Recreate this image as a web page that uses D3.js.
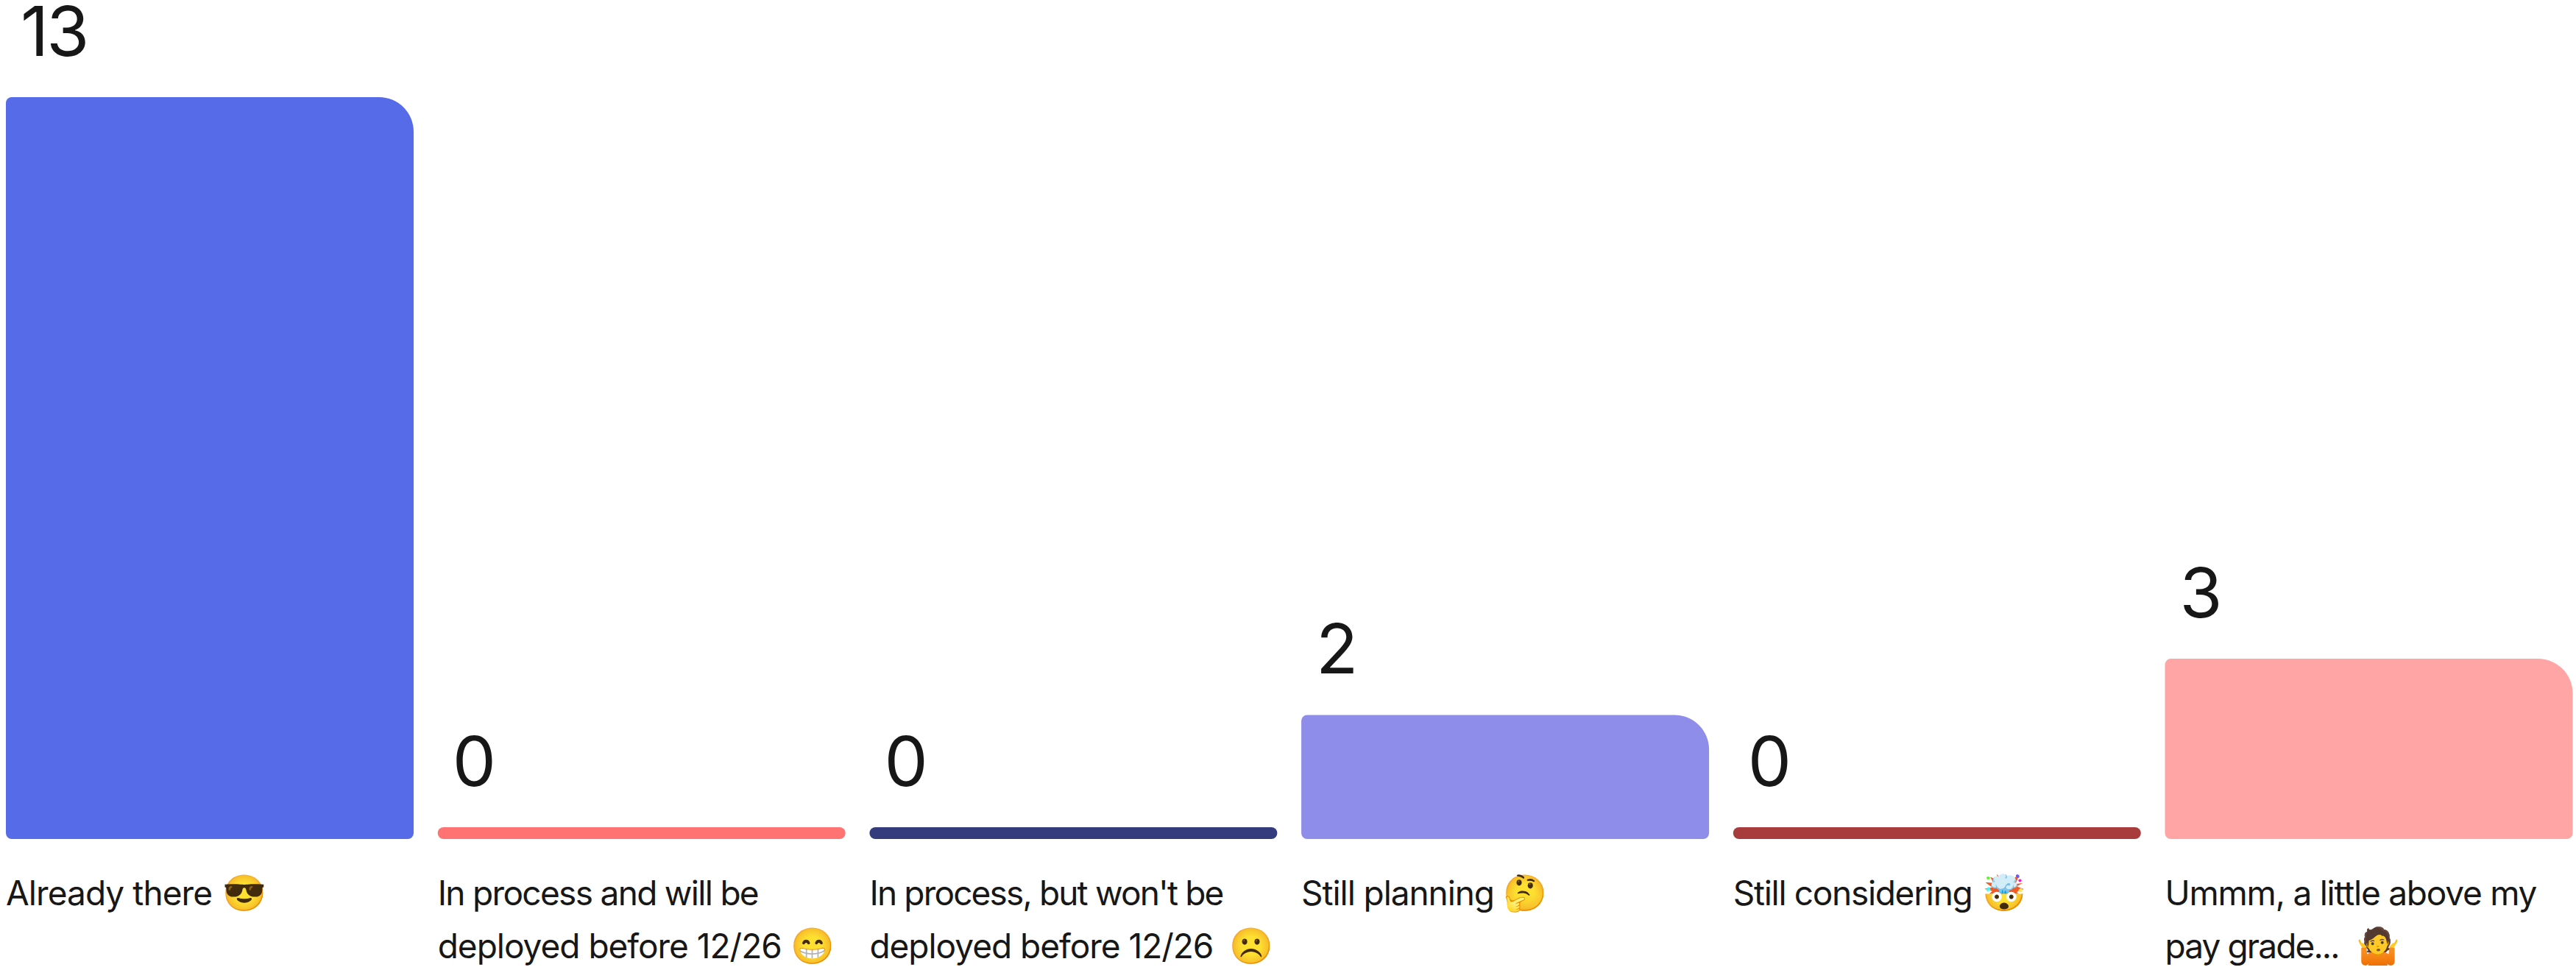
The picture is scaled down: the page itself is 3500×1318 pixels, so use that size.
<!DOCTYPE html>
<html><head><meta charset="utf-8">
<script src="https://cdn.jsdelivr.net/npm/d3@7"></script>
<style>html,body{margin:0;padding:0;background:#fff;overflow:hidden}</style>
</head><body><svg id="c" width="3500" height="1318"></svg>
<script>
const categories = ["Already there","In process and will be deployed","In process, but won't be deployed","Still planning","Still considering","Ummm, a little above my pay grade"];
const values = [13,0,0,2,0,3];
const colors = ["#566BE8","#FF7373","#343C7E","#8F8DEA","#A83C3C","#FFA5A5"];
const labelLines = [
 ["Already there"],
 ["In process and will be","deployed before 12/26"],
 ["In process, but won't be","deployed before 12/26"],
 ["Still planning"],
 ["Still considering"],
 ["Ummm, a little above my","pay grade..."]
];
const emojis = ["😎","😁","☹️","🤔","🤯","🤷"];
// fitted widths of each label line, and of the emoji offset from the bar's left edge
const lineFit = [[281],[437,468],[482,468],[263],[326],[506,238]];
const emojiOffset = [294,480,489,274,339,260];
const svg = d3.select("#c");
const x = d3.scaleBand().domain(categories).range([8,3495.5]).paddingInner(0.0557);
const y = d3.scaleLinear().domain([0,13]).range([1124,132]);
const base = 1140;
function barPath(d,i){
  const l=x(categories[i]), r=l+x.bandwidth(), t=y(d), h=base-t;
  const a=Math.min(8,h/2), b=Math.min(47,h/2);
  return `M${l},${t+a}A${a},${a} 0 0 1 ${l+a},${t}H${r-b}A${b},${b} 0 0 1 ${r},${t+b}V${base-a}A${a},${a} 0 0 1 ${r-a},${base}H${l+a}A${a},${a} 0 0 1 ${l},${base-a}Z`;
}
svg.selectAll("path.bar").data(values).join("path").attr("class","bar").attr("d",barPath).attr("fill",(d,i)=>colors[i]);
svg.selectAll("text.val").data(values).join("text").attr("class","val")
  .attr("x",(d,i)=>x(categories[i])+20).attr("y",d=>y(d)-56)
  .attr("font-family","Inter").attr("font-size",94).attr("letter-spacing",d=>d>9?-3:0).attr("fill","#171717").text(d=>d);
const g=svg.selectAll("g.lab").data(labelLines).join("g").attr("class","lab");
g.selectAll("text.line").data((d,i)=>d.map((s,j)=>({s,j,i}))).join("text").attr("class","line")
  .attr("x",d=>x(categories[d.i])).attr("y",d=>1230+72*d.j)
  .attr("font-family","Inter").attr("font-size",46).attr("fill","#171717")
  .attr("textLength",d=>lineFit[d.i][d.j]).attr("lengthAdjust","spacing").text(d=>d.s);
svg.selectAll("text.emoji").data(emojis).join("text").attr("class","emoji")
  .attr("x",(d,i)=>x(categories[i])+emojiOffset[i]).attr("y",(d,i)=>1230+72*(labelLines[i].length-1))
  .attr("font-family","'Noto Color Emoji', Inter").attr("font-size",48).text(d=>d);
</script></body></html>
